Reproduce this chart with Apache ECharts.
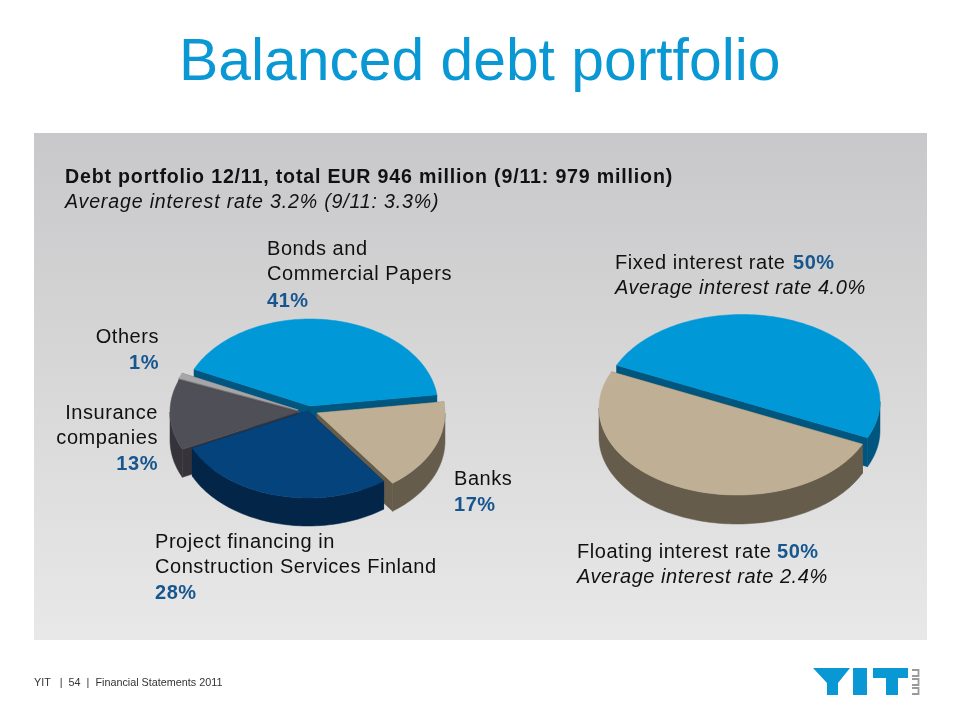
<!DOCTYPE html>
<html>
<head>
<meta charset="utf-8">
<style>html,body{margin:0;padding:0;background:#fff}#chart{width:960px;height:720px}</style>
<script src="https://cdn.jsdelivr.net/npm/echarts@6/dist/echarts.min.js"></script>
</head>
<body>
<div id="chart"></div>
<script>
// ---- data ----
var sourceCategories = ['Bonds and Commercial Papers', 'Banks', 'Project financing in Construction Services Finland', 'Insurance companies', 'Others'];
var sourceValues = [41, 17, 28, 13, 1];
var rateCategories = ['Fixed interest rate', 'Floating interest rate'];
var rateValues = [50, 50];
var averageRates = [4.0, 2.4];

// ---- the reference text is set with loose tracking; apply it per font size ----
var TRACKING = { '19.6px': '0.82px', '20px': '0.55px' };
(function () {
  var proto = CanvasRenderingContext2D.prototype, orig = proto.fillText;
  proto.fillText = function () {
    var m = /([\d.]+px)/.exec(this.font), ls = m && TRACKING[m[1]];
    if (ls) this.letterSpacing = ls;
    var r = orig.apply(this, arguments);
    if (ls) this.letterSpacing = '0px';
    return r;
  };
})();

// ---- look of the two pies ----
var FONT = '"Liberation Sans", Arial, sans-serif';
var BLUE = '#17568f';
var leftPie = {
  name: 'Debt by source', values: sourceValues, names: sourceCategories,
  cx: 309, cy: 409, rx: 128, ry: 87, depth: 28, startAngle: 295,
  drawOrder: [0, 4, 3, 1, 2],
  offset: [[1, -3], [8, 4], [-1, 2], [-11, 3], [-11, 1]],
  top:  ['#0098d6', '#bfb095', '#04437c', '#4f4f58', '#a6a6a8'],
  side: ['#00567f', '#665c4c', '#022548', '#36343a', '#6a6a6c']
};
var rightPie = {
  name: 'Debt by interest type', values: rateValues, names: rateCategories,
  cx: 739, cy: 405, rx: 138, ry: 87, depth: 29, startAngle: 294.6,
  drawOrder: [0, 1],
  offset: [[3, -3.5], [-2, 3]],
  top:  ['#0098d6', '#bfb095'],
  side: ['#00567f', '#665c4c']
};

function sliceRows(pie) {
  var total = pie.values.reduce(function (a, b) { return a + b; }, 0);
  var starts = [], acc = pie.startAngle;
  pie.values.forEach(function (v) { starts.push(acc); acc += v / total * 360; });
  return pie.drawOrder.map(function (i) {
    return { name: pie.names[i], value: [pie.values[i], starts[i], i, total] };
  });
}

function makeRender(pie) {
  return function (params, api) {
    var value = api.value(0), a0 = api.value(1), idx = api.value(2), total = api.value(3);
    var a1 = a0 + value / total * 360;
    var cx = pie.cx + pie.offset[idx][0], cy = pie.cy + pie.offset[idx][1];
    function pt(a, dy) {
      var r = a * Math.PI / 180;
      return [cx + pie.rx * Math.sin(r), cy - pie.ry * Math.cos(r) + (dy || 0)];
    }
    function arc(from, to, dy) {
      var out = [], n = Math.max(2, Math.ceil(Math.abs(to - from) / 1.5));
      for (var k = 0; k <= n; k++) out.push(pt(from + (to - from) * k / n, dy));
      return out;
    }
    var d = pie.depth, kids = [];
    function poly(points, fill) {
      kids.push({ type: 'polygon', shape: { points: points }, style: { fill: fill, stroke: fill, lineWidth: 0.5 } });
    }
    // radial cut faces
    [a0, a1].forEach(function (a) {
      var p = pt(a);
      poly([[cx, cy], p, [p[0], p[1] + d], [cx, cy + d]], pie.side[idx]);
    });
    // outer wall: only the front half of the rim can be seen
    [[90, 270], [450, 630]].forEach(function (w) {
      var f = Math.max(a0, w[0]), t = Math.min(a1, w[1]);
      if (t > f) poly(arc(f, t, 0).concat(arc(t, f, d)), pie.side[idx]);
    });
    // top face
    poly([[cx, cy]].concat(arc(a0, a1, 0)), pie.top[idx]);
    return { type: 'group', children: kids };
  };
}

var LABEL_SIZE = 20, HEAD_SIZE = 19.6, DY = 1;
function txt(x, y, s, opt) {
  opt = opt || {};
  return {
    type: 'text', x: x, y: y + DY, silent: true, z: 10,
    style: {
      text: s, fill: opt.fill || '#111', align: opt.align || 'left', verticalAlign: 'middle',
      font: (opt.italic ? 'italic ' : '') + (opt.bold ? 'bold ' : '') + (opt.size || LABEL_SIZE) + 'px ' + FONT
    }
  };
}
function pct(v) { return v + '%'; }

var texts = [
  txt(179, 63, 'Balanced debt portfolio', { size: 58.8, fill: '#0a98d5' }),
  txt(65, 177, 'Debt portfolio 12/11, total EUR 946 million (9/11: 979 million)', { bold: true, size: HEAD_SIZE }),
  txt(65, 202, 'Average interest rate 3.2% (9/11: 3.3%)', { italic: true, size: HEAD_SIZE }),

  txt(267, 248, 'Bonds and'),
  txt(267, 273, 'Commercial Papers'),
  txt(267, 300, pct(sourceValues[0]), { bold: true, fill: BLUE }),

  txt(159, 336, 'Others', { align: 'right' }),
  txt(159, 362, pct(sourceValues[4]), { bold: true, fill: BLUE, align: 'right' }),

  txt(158, 412, 'Insurance', { align: 'right' }),
  txt(158, 437, 'companies', { align: 'right' }),
  txt(158, 463, pct(sourceValues[3]), { bold: true, fill: BLUE, align: 'right' }),

  txt(454, 478, 'Banks'),
  txt(454, 504, pct(sourceValues[1]), { bold: true, fill: BLUE }),

  txt(155, 541, 'Project financing in'),
  txt(155, 566, 'Construction Services Finland'),
  txt(155, 592, pct(sourceValues[2]), { bold: true, fill: BLUE }),

  txt(615, 262, rateCategories[0]),
  txt(793, 262, pct(rateValues[0]), { bold: true, fill: BLUE }),
  txt(615, 287, 'Average interest rate ' + averageRates[0].toFixed(1) + '%', { italic: true }),
  txt(577, 551, rateCategories[1]),
  txt(777, 551, pct(rateValues[1]), { bold: true, fill: BLUE }),
  txt(577, 576, 'Average interest rate ' + averageRates[1].toFixed(1) + '%', { italic: true }),

  txt(34, 682, 'YIT   |  54  |  Financial Statements 2011', { size: 10.8, fill: '#333' })
];

var LOGO = '#0a98d5', LOGO2 = '#9a9a9c';
var logo = [
  [[813,668],[850,668],[838,683],[838,695],[827,695],[827,683]],
  [[853,668],[867,668],[867,695],[853,695]],
  [[873,668],[908,668],[908,678],[898,678],[898,695],[886,695],[886,678],[873,678]]
].map(function (p) {
  return { type: 'polygon', silent: true, z: 10, shape: { points: p }, style: { fill: LOGO } };
});
var marks = [[670,677],[679,686],[688,695]].map(function (r) {
  return { type: 'polyline', silent: true, z: 10,
    shape: { points: [[912, r[0]], [918.5, r[0]], [918.5, r[1] - 1], [912, r[1] - 1]] },
    style: { fill: 'none', stroke: LOGO2, lineWidth: 1.8 } };
});

var chart = echarts.init(document.getElementById('chart'), null, { renderer: 'canvas' });
chart.setOption({
  animation: false,
  backgroundColor: '#ffffff',
  graphic: {
    elements: [{
      type: 'rect', silent: true, z: -10,
      shape: { x: 34, y: 133, width: 893, height: 507 },
      style: { fill: new echarts.graphic.LinearGradient(0, 0, 0, 1, [
        { offset: 0, color: '#c8c8ca' }, { offset: 1, color: '#e8e8e8' }
      ]) }
    }].concat(texts, logo, marks)
  },
  series: [leftPie, rightPie].map(function (pie) {
    return {
      type: 'custom', name: pie.name, coordinateSystem: 'none', silent: true, z: 5,
      renderItem: makeRender(pie), data: sliceRows(pie)
    };
  })
});
</script>
</body>
</html>
